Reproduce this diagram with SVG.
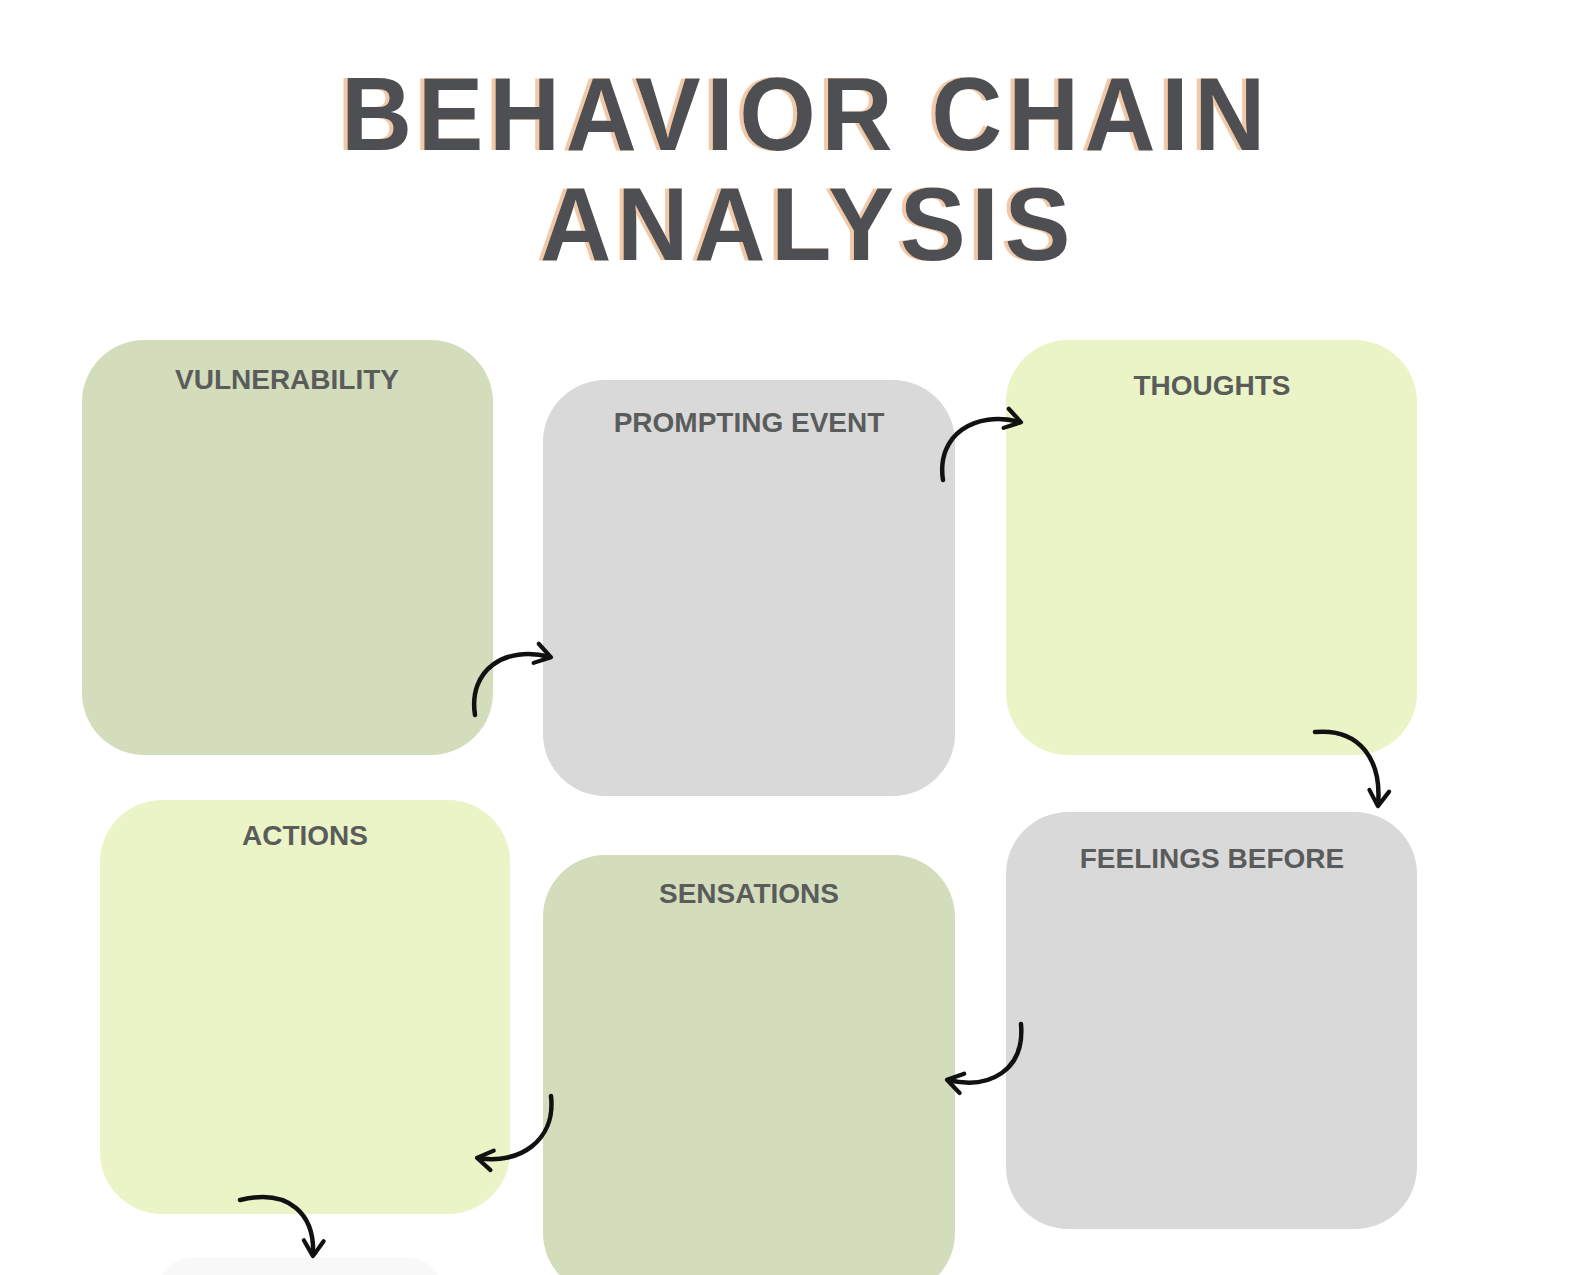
<svg xmlns="http://www.w3.org/2000/svg" width="1588" height="1275" viewBox="0 0 1588 1275">
<style>
.t{font-family:"Liberation Sans",Arial,sans-serif;font-weight:bold;font-size:104px;fill:#4d4f52;letter-spacing:6px;filter:url(#sh)}
.l{font-family:"Liberation Sans",Arial,sans-serif;font-weight:bold;font-size:28px;fill:#5a5c5c;text-anchor:middle}
.a{fill:none;stroke:#111;stroke-width:4.5;stroke-linecap:round;stroke-linejoin:round}
</style>
<defs>
<filter id="sh" x="-5%" y="-10%" width="110%" height="120%"><feDropShadow dx="-4" dy="0" stdDeviation="0.6" flood-color="#f2c9a8"/></filter>
<marker id="h" viewBox="0 0 20 20" refX="14" refY="10" markerWidth="22" markerHeight="22" orient="auto" markerUnits="userSpaceOnUse" overflow="visible"><path d="M1,1 L15,10 L1,19" fill="none" stroke="#111" stroke-width="3.8" stroke-linecap="round" stroke-linejoin="round"/></marker></defs>
<rect width="1588" height="1275" fill="#fff"/>
<g id="title">
<text class="t" x="341" y="150" textLength="930" lengthAdjust="spacingAndGlyphs">BEHAVIOR CHAIN</text>
<text class="t" x="540" y="260" textLength="536" lengthAdjust="spacingAndGlyphs">ANALYSIS</text>
</g>
<g id="vulnerability"><rect x="82" y="340" width="411" height="415" rx="62" fill="#d3ddbb"/><text class="l" x="287" y="389">VULNERABILITY</text></g>
<g id="prompting"><rect x="543" y="380" width="412" height="416" rx="62" fill="#d9d9d9"/><text class="l" x="749" y="432">PROMPTING EVENT</text></g>
<g id="thoughts"><rect x="1006" y="340" width="411" height="415" rx="62" fill="#eaf4c6"/><text class="l" x="1212" y="395">THOUGHTS</text></g>
<g id="feelings"><rect x="1006" y="812" width="411" height="417" rx="62" fill="#d9d9d9"/><text class="l" x="1212" y="868">FEELINGS BEFORE</text></g>
<g id="sensations"><rect x="543" y="855" width="412" height="440" rx="62" fill="#d3ddbb"/><text class="l" x="749" y="903">SENSATIONS</text></g>
<g id="actions"><rect x="100" y="800" width="410" height="414" rx="62" fill="#eaf4c6"/><text class="l" x="305" y="845">ACTIONS</text></g>
<g id="next"><rect x="160" y="1258" width="280" height="60" rx="30" fill="#f8f8f8"/></g>
<g id="connectors">
<path class="a" marker-end="url(#h)" d="M475,715 C468,670 505,645 550,657"/>
<path class="a" marker-end="url(#h)" d="M943,480 C936,435 975,410 1020,422"/>
<path class="a" marker-end="url(#h)" d="M1315,732 C1360,728 1382,760 1378,805"/>
<path class="a" marker-end="url(#h)" d="M1021,1024 C1025,1070 990,1090 948,1080"/>
<path class="a" marker-end="url(#h)" d="M551,1096 C556,1140 520,1165 478,1158"/>
<path class="a" marker-end="url(#h)" d="M240,1200 C290,1188 315,1215 313,1255"/>
</g>
</svg>
